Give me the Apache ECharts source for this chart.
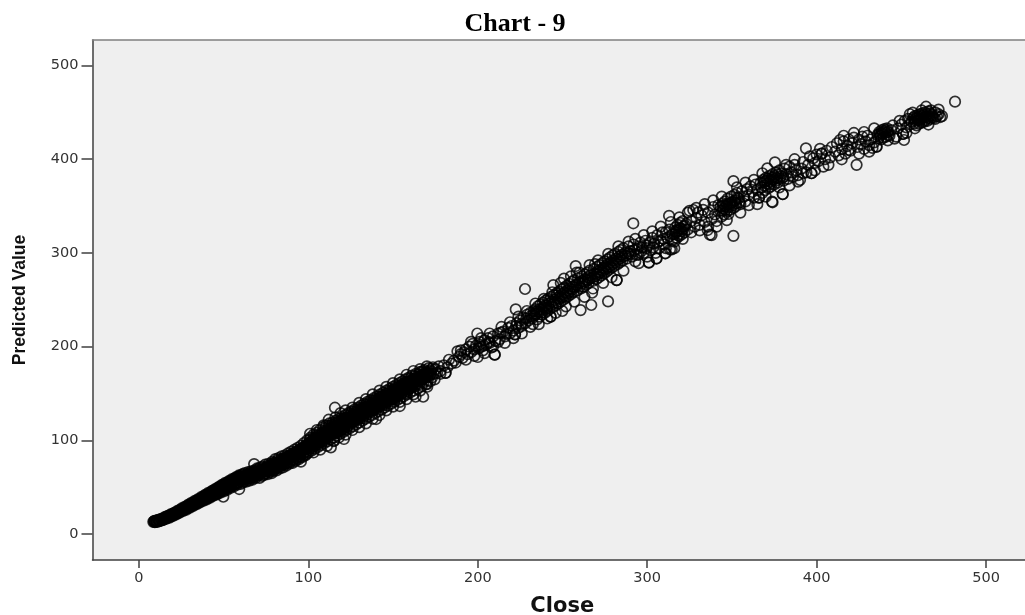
<!DOCTYPE html>
<html><head><meta charset="utf-8">
<style>html,body{margin:0;padding:0;background:#fff}#c{width:1025px;height:615px}</style>
<script src="https://cdn.jsdelivr.net/npm/echarts@6/dist/echarts.min.js"></script>
</head><body><div id="c"></div>
<script>
const titleText = "Chart - 9";
const xName = "Close";
const yName = "Predicted Value";
const tickValues = [0,100,200,300,400,500];

const tipBand = [[8.5,13],[9,13.5],[9.4,12.6],[9.8,14],[10.2,13],[10.6,14.3],[11,13.2],[11.5,14.8],[12,14],[12.4,15.3],[12.8,14.5],[13.3,15.9],[13.7,15],[14.2,16.6],[14.6,15.6],[15,17],[15.5,16.4],[16,18],[16.4,17.2],[16.8,18.8],[17.3,17.9],[17.8,19.5],[18.2,18.4],[18.7,20.2],[19.1,19.3],[19.6,21],[20,20.1],[20.5,21.8],[20.9,20.9],[21.4,22.6],[21.8,21.6],[22.3,23.5],[22.7,22.3],[23.2,24.3],[23.6,23.2],[24.1,25.2],[24.5,24],[25,26.2],[25.4,24.8],[25.9,27],[26.3,25.7],[26.8,27.8],[27.2,26.5],[27.7,28.9],[28.1,27.3],[28.6,29.8],[29,28.2],[29.5,30.7],[29.9,29],[30.4,31.6],[30.8,29.9],[31.3,32.6],[31.7,30.6],[32.2,33.5],[32.6,31.5],[33.1,34.4],[33.5,32.3],[34,35.4],[34.4,33.1],[34.9,36.3],[35.3,34],[35.8,37.2],[36.2,34.8],[36.7,38.1],[37.1,35.6],[37.6,39.1],[38,36.3],[38.5,40.1],[38.9,37.2],[39.4,41],[39.8,38],[40.3,42],[40.7,38.8],[41.2,43],[41.6,39.5],[42.1,43.9],[42.5,40.4],[43,45],[43.4,41.1],[43.9,46],[44.3,42],[44.8,47],[45.2,42.7],[45.7,48],[46.1,43.5],[46.6,49],[47,44.3],[47.5,50],[47.9,45],[48.4,51],[48.8,46],[49.3,52],[49.8,39.8],[49.7,47],[50.2,52.8],[50.6,47.6],[51.1,53.6],[51.5,48.4],[52,54.5],[52.4,49.4],[52.9,55.4],[53.3,50.2],[53.8,56.3],[54.2,51],[54.7,57.2],[55.1,51.8],[55.6,58],[56,52.5],[56.5,58.9],[56.9,53.4],[57.4,59.9],[57.8,54.4],[58.3,60.8],[58.7,55.2],[59.2,48],[59.2,61.7],[59.6,56.2]];

const tipFill = [[9.2,14.2],[10.4,13.6],[11.3,15.2],[12.1,13.7],[13,16],[14,14.7],[15.2,18],[16.2,16.3],[17,19.4],[18,17.5],[19,21.4],[19.8,19],[21,23],[22,20.8],[23,25],[24,22.7],[25.2,27.3],[26.1,24.7],[27,29],[28,26],[29.2,31.4],[30.1,28.2],[31,33.2],[32,30],[33,35.5],[34.1,31.9],[35,37.3],[36,33.7],[37,39.6],[38.2,35.5],[39.1,41.9],[40,37],[41,43.9],[42,38.9],[43.2,46.2],[44,40.9],[45,48],[46,42.2],[47,50.2],[48,44],[49,52.5],[50,45.5],[51,54.6],[52,47],[53,56.4],[54,49.2],[55,58.6],[56,50.7],[57,60.4],[58,52.6],[59,62.5],[60,53.6],[33.6,33.9],[35.1,35],[36.6,36.7],[38.1,38.3],[39.6,39.9],[41.1,41.4],[42.6,43.1],[44.1,44.4],[45.6,46],[47.1,47.5],[48.6,49],[50.1,50.6],[51.6,52],[53.1,53.7],[54.6,54.8],[56.1,56.5],[57.6,58],[59.1,59.1]];

const lowerBand = [[60,61],[60.4,57],[60.7,63],[61,59],[61.4,55],[61.8,62],[62.1,58],[62.5,65],[62.9,60],[63.3,56],[63.6,63],[64,59],[64.4,66],[64.8,61],[65.1,57],[65.5,64],[65.9,60],[66.3,67],[66.6,62],[67,58],[67.4,65],[67.8,61],[68,74.7],[68.2,68],[68.5,63],[68.9,60],[69.3,66],[69.7,70],[70,62],[70.4,67],[70.8,64],[71.2,60],[71.5,71],[71.9,65],[72.3,68],[72.7,62],[73,72],[73.4,66],[73.8,63],[74.2,69],[74.5,74],[74.9,65],[75.3,71],[75.7,67],[76,64],[76.4,75],[76.8,70],[77.2,66],[77.5,72],[77.9,68],[78.3,65],[78.7,77],[79,71],[79.4,67],[79.8,74],[80.2,69],[80.5,80],[80.9,72],[81.3,68],[81.7,76],[82,71],[82.4,81],[82.8,74],[83.2,70],[83.5,78],[83.9,73],[84.3,83],[84.7,76],[85,71],[85.4,80],[85.8,74],[86.2,84],[86.5,78],[86.9,73],[87.3,82],[87.7,76],[88,86],[88.4,80],[88.8,75],[89.2,84],[89.5,78],[89.9,88],[90.3,82],[90.7,76],[91,86],[91.4,80],[91.8,90],[92.2,84],[92.5,78],[92.9,88],[93.3,82],[93.7,92],[94,86],[94.4,80],[94.8,90],[95.2,84],[95.6,77.2],[95.5,94],[95.9,88],[96.3,82],[96.7,92],[97,86],[97.4,97],[97.8,90],[98.2,84],[98.5,95],[98.9,88],[99.3,100],[99.7,93],[100,87],[100.4,97],[100.8,91],[101.2,103],[101.5,95],[101.9,89],[102.3,100],[102.7,93],[103,106],[103.4,98],[103.8,91],[104.2,103],[104.5,96],[104.9,108],[105.3,100],[105.7,93],[106,105],[106.4,98],[106.8,111],[107.2,103],[107.5,95],[107.9,108],[108.3,100],[108.7,114],[109,105],[109.4,97],[109.8,110],[110.2,102],[110.5,116],[110.9,107],[111.3,99],[111.7,112],[112,104],[112.4,118],[112.8,109],[113.2,101],[113.3,92.5],[113.5,114],[113.9,106],[114.3,119],[114.7,111],[115,103],[115.4,116],[115.7,134.8],[115.8,108],[116.2,121],[116.5,113],[116.9,105],[117.3,118],[117.7,110],[118,123],[118.4,115],[118.8,107],[119.2,120],[119.5,112],[119.9,125],[120.3,117],[120.7,109],[121,101.4],[121,122],[121.4,114],[121.8,127],[122.2,119],[122.5,111],[122.9,124],[123.3,116],[123.7,129],[124,121],[124.4,113],[124.8,126],[125.2,118],[125.5,131],[125.9,123],[126.3,115],[126.7,128],[127,120],[127.4,133],[127.8,125],[128.2,117],[128.5,130],[128.9,122],[129.3,135],[129.7,127],[130,119],[130.4,132],[130.8,124],[131.2,137],[131.5,129],[131.9,121],[132.3,134],[132.7,126],[133,139],[133.4,131],[133.8,123],[134.2,136],[134.5,128],[134.9,141],[135.3,133],[135.7,125],[136,138],[136.4,130],[136.8,143],[137.2,135],[137.5,127],[137.9,140],[138.3,132],[138.7,145],[139,137],[139.4,129],[139.8,142],[140,122.7],[140.2,134],[140.5,147],[140.9,139],[141.3,131],[141.7,144],[142,136],[142.4,149],[142.8,141],[143.2,133],[143.5,146],[143.9,138],[144.3,151],[144.7,143],[145,135],[145.4,148],[145.8,140],[146.2,153],[146.5,145],[146.9,137],[147.3,150],[147.7,142],[148,155],[148.4,147],[148.8,139],[149.2,152],[149.5,144],[149.9,157],[150.3,149],[150.7,141],[151,154],[151.4,146],[151.8,159],[152.2,151],[152.5,143],[152.9,156],[153.3,148],[153.7,161],[154,136.6],[154.1,153],[154.4,145],[154.8,158],[155.2,150],[155.6,163],[155.9,155],[156.3,147],[156.7,160],[157.1,152],[157.4,165],[157.8,157],[158.2,149],[158.6,162],[158.9,154],[159.3,167],[159.7,159],[160.1,151],[160.4,164],[160.8,156],[161.2,169],[161.6,161],[162,153],[162.5,166],[163,158],[163.3,146.5],[163.5,171],[164,163],[164.5,155],[165,168],[165.5,160],[166,173],[166.5,165],[167,158],[167.8,146.5],[167.5,170],[168,162],[168.5,175],[169,167],[169.5,160],[170.2,157.2],[170,172],[170.5,164],[171,177],[171.5,169],[172,163],[172.5,174],[173,167],[173.5,178],[174,171],[174.5,165],[175,176]];

const lowerFill = [[60.2,59.5],[61.2,64],[62.3,56.8],[63.1,61.6],[64.2,64.3],[65.3,59],[66.1,65.2],[67.2,60],[68.1,66.5],[69,62.7],[70.2,69],[71,63],[72,66.5],[73.1,69.5],[74,64],[75,68.7],[76.1,72.7],[77,68],[78,74.6],[79.1,69],[80,76],[81,70.5],[82.1,78.6],[83,72],[84,80],[85.1,74],[86,81.5],[87,75.4],[88.1,83],[89,77],[90,85],[91.1,78.4],[92,87],[93,80.2],[94.1,88.5],[95,82],[96,90],[97.1,83.6],[98,93],[99,85.5],[100.1,95],[101,101],[102,91],[103.1,103],[104,94],[105,105.5],[106.1,96],[107,100.6],[108,106.4],[109.1,99],[110,113],[111,104.6],[112.1,115.5],[113,106],[114,116.5],[115.1,100],[116,118.7],[117,108],[118,120.6],[119.1,110],[120,122.7],[121,112],[122.1,124],[123,114],[124,118.6],[125.1,128.5],[126,120],[127,130.5],[128,122.5],[129.1,132.5],[130,124.6],[131,134.4],[132.1,123.6],[133,128.5],[134,138],[135.1,130.5],[136,140],[137,132.6],[138,142.4],[139.1,134.5],[140,144],[141,136.5],[142.1,146.3],[143,138.5],[144,148],[145.1,137.7],[146,150],[147,142.5],[148,152.7],[149.1,144.6],[150,154.5],[151,143.8],[152.1,156.5],[153,148.6],[154,158.7],[155.1,150.7],[156,160.5],[157,149.7],[158,162.6],[159.1,154.7],[160,166],[161,158],[162.1,163.7],[163,168.5],[164,160.5],[165.1,170.6],[166,162.5],[167,173],[168,165.5],[169.1,172.8],[170,168],[171,174],[172.1,170.4],[173,176.2],[60.8,60.4],[63.7,62],[66.8,63.7],[70.7,66],[74.6,71],[78.5,72.2],[82.6,76.6],[86.7,79.6],[90.6,83.5],[94.6,87],[98.6,91.6],[102.5,96.5],[106.6,101.7],[110.7,105.5],[114.6,112],[118.6,118],[122.6,121.5],[126.5,125.5],[130.6,129.6],[134.6,133.5],[138.5,137.5],[142.6,143],[146.6,147.6],[150.5,151.5],[154.6,155.7],[158.5,159.6],[162.6,160.5],[166.6,168],[170.6,170.5],[62,60.5],[65,62],[68,64.4],[71.6,68.4],[75.6,69.5],[79.6,76],[83.7,75.5],[87.6,79.4],[91.6,83],[95.6,91],[99.6,96],[103.6,100.3],[107.6,104.5],[111.6,109.6],[115.6,113],[119.6,115.4],[123.6,122],[127.6,127],[131.6,131],[135.6,135.2],[139.6,139],[143.6,141.7],[147.6,146],[151.6,149],[155.6,153.4],[159.6,157.6],[163.6,164],[167.6,166.5]];

const lowerCore = [[69.4,64.6],[72.6,66.9],[75.2,70],[77.7,71.3],[80.3,73.7],[82.9,76.5],[85.2,78],[87.9,81],[90.5,84],[92.7,84.7],[95.4,86],[97.6,90.2],[99.4,92],[100.6,93],[102.1,96],[103.3,95.5],[104.6,98.5],[105.9,102.3],[107.1,98.4],[108.5,104],[109.6,102.7],[110.8,108.5],[112.2,107.2],[113.6,111],[114.8,109.5],[116.1,115.5],[117.2,113.7],[118.3,112.6],[119.4,116.5],[120.6,120],[121.7,117.8],[122.8,120.5],[124.1,123.5],[125.3,121.5],[126.6,124.8],[127.9,123.6],[129,128.4],[130.2,126.5],[131.4,130.5],[132.6,129.2],[133.7,133.4],[135,131.5],[136.2,135.7],[137.3,133.5],[138.4,138.4],[139.6,136],[140.8,142],[141.9,140.4],[143.1,144],[144.4,140.6],[145.5,145.5],[146.7,143.5],[147.9,148.7],[149,147],[150.2,151.6],[151.3,149.5],[152.4,153.6],[153.6,151.4],[154.9,156],[156.1,153.8],[157.2,158.6],[158.3,156.5],[159.5,161.5],[160.6,159.6],[161.8,164.8],[163.1,162.7],[164.3,166.5],[165.4,164.8],[166.8,169],[168.2,168.7],[169.4,171],[170.9,172.5],[101.6,98],[103.9,101.5],[106.2,103.3],[108.8,102.5],[111.2,111],[113.8,113],[116.3,110.5],[118.9,116.8],[121.2,124],[123.4,119.5],[125.7,125.4],[128.1,127.5],[130.5,128.4],[132.9,135],[135.4,135.6],[137.8,136.8],[140.1,137.8],[142.5,139.5],[144.9,146.6],[147.2,145.5],[149.7,150.6],[152,147.5],[154.3,154.5],[156.8,156.7],[159.2,157.8],[161.4,163],[163.9,165.5]];

const lowerEdges = [[101,107],[105,111],[109,116],[112,122],[116,124.5],[119,129],[122,132],[126,135],[130,140],[134,144],[138,149],[142,153],[146,157],[150,161],[154,165],[158,170],[162,174],[166,176],[170,179],[103,87],[107,90],[111,94],[115,99],[118,103],[122,106],[126,111],[130,114],[134,118],[138,123],[142,127],[146,132],[150,136],[154,141],[158,144],[162,149],[166,153],[170,160]];

const midBand = [[176,172],[177,179],[178,174],[180,180],[181,172],[182,178],[184.6,182],[186,185],[188,195],[189,189],[190,196],[191,188],[192,194],[193,197],[194,192],[195,200],[196,194],[197,203],[198,197],[199,201],[199.7,214],[200,188.9],[200.5,198],[201,205],[202,200],[203,196],[204,207],[205,202],[206,209],[207,204],[208,199],[210,191.4],[209,211],[210.5,206],[212,214],[213,208],[215,216],[216,211],[218,220],[219,214],[220,222],[221,217],[222,213],[222.4,239.8],[223,225],[224,220],[225,228],[226,222],[227,231],[227.9,261.5],[228,225],[229,234],[230,228],[231,236],[232,230],[232.5,224],[233,238],[233.5,233],[234,240],[234.5,235],[235,229],[235.5,243],[236,237],[236.5,232],[237,245],[237.5,240],[238,234],[238.5,247],[239,242],[239.5,236],[240,249],[240.5,244],[241,238],[241.5,251],[242,246],[243,232],[242.5,240],[243.2,253],[243.7,248],[244.2,242],[244.6,265.7],[245,255],[245.5,250],[246,244],[246.5,257],[247,252],[247.5,246],[248,259],[248.5,254],[249,248],[249.5,261],[249.9,238],[250,256],[250.5,250],[250.9,272.5],[251,263],[251.5,258],[252,252],[252.5,265],[253,260],[253.5,254],[254,267],[254.5,262],[255,256],[255.5,269],[256,264],[256.5,258],[257,271],[257.8,286],[258,266],[258.4,278.9],[258.8,260],[259.2,273],[260,268],[260.7,239],[261,262],[261.5,275],[262,270],[262.5,264],[263,277],[263.5,272],[264,266],[264.5,279],[265,274],[265.5,268],[266,281],[267,244.4],[266.5,276],[267.5,257.5],[267.8,270],[268.5,283],[269.2,288],[269.5,278],[270,272],[270.5,285],[271,280],[271.5,274],[272,287],[272.5,282],[273,276],[273.5,289],[274,284],[274.5,278],[275,291],[275.5,286],[276,280],[276.9,248.3],[276.5,293],[277,288],[277.5,282],[278,295],[278.5,290],[279,284],[279.5,297],[280,292],[280.5,286],[281,299],[282,271],[281.5,294],[282.5,288],[283,301],[283.5,296],[284,290],[284.5,303],[285,298],[285.5,292],[286,305],[287,300],[288,294],[289,307],[290,302],[291,296]];

const midFill = [[201.3,202],[203.6,201],[206.5,205],[213.6,215],[217,213.6],[222.6,222],[225.6,224],[228.6,230],[231.4,232.6],[233.2,235],[234.8,237.6],[236.2,239.5],[237.8,236.5],[239.2,243.6],[240.8,241],[242.2,249],[243.6,244.6],[245.2,247],[246.8,254.7],[248.2,251],[249.7,252.5],[251.2,254.5],[252.8,257],[254.2,258.7],[255.8,261],[257.2,263.6],[258.7,265],[260.3,264],[261.8,267.5],[263.2,269],[264.8,271],[266.2,272.7],[267.7,274],[269.1,275],[270.7,277],[272.2,279],[273.7,280.7],[275.2,282.6],[276.7,284.5],[278.2,286],[279.7,288],[281.2,290],[282.7,292.6],[284.2,294],[285.7,296],[287.2,297],[288.7,299.6],[290.2,298.6]];

const midSpread = [[178,171],[183,186],[187,183],[190,192],[193,186],[196,205],[198,190],[202,209],[204,193],[207,214],[209,200],[212,205],[214,221],[216,204],[219,226],[221,209],[224,232],[226,214],[229,238],[231,221],[234,246],[236,224],[239,251],[241,230],[244,258],[246,236],[249,268],[252,243],[255,275],[257,248],[260,279],[263,253],[266,287],[268,262],[271,292],[274,268],[277,299],[279,274],[283,307],[286,281],[289,312]];

const upperBand = [[291.8,331.6],[292,309],[293,291],[294,304],[295,298],[296,311],[297,306],[298,300],[299,313],[300,308],[301,289.8],[302,303],[303,316],[304,310],[305.5,294.2],[306,319],[307,305],[308,313],[309,322],[310,309],[310.9,299.6],[312,316],[312.9,339.6],[313,325],[314.5,303.8],[315,320],[316,312],[316.5,327],[317,322],[317.5,316],[318,330],[318.5,324],[319,318],[319.5,332],[320,326],[320.5,320],[321,334],[321.5,328],[322,322],[323,331],[324,325],[325,345],[326,334],[327.2,345.8],[328,328],[329,337],[330,343],[331,330],[332,340],[333,346],[334,333],[335.7,324.4],[336,343],[337,319.5],[338,336],[339,349],[340,341],[341,334],[342,351],[343,345],[344,339],[344.5,353],[345,347],[345.5,341],[346,355],[346.5,350],[347,344],[347.5,358],[348,341.5],[348.5,352],[349,346],[349.5,360],[350,354],[350.9,376.6],[350.9,318.2],[351,348],[351.5,362],[352,356],[352.5,350],[353,364],[354,358],[355,352],[356,366],[357,360],[358,355],[359,368],[360,362],[361,371],[362,365],[363,359],[364,373],[365,367],[366,359],[367,375],[367.5,370],[368,364],[368.5,378],[369,372],[369.5,367],[370,380],[370.9,390.3],[371,374],[371.5,369],[372,382],[372.5,376],[373,371],[373.7,354.7],[374,384],[374.5,378],[375,373],[375.4,396.7],[376,386],[376.5,380],[377,375],[378,388],[379,382],[380,362.6],[380.5,377],[381,390],[382,384],[383,379],[384,392],[385,386],[386,381],[387,394],[388,388],[389,383],[390.2,377.8],[391,390],[392,397],[393.7,411.6],[394,386],[395,394],[397,385],[398,401],[399,396],[400,405],[401,398],[403,406],[404,392],[405,400],[406,409],[408,402],[410.9,408],[412,417],[413.8,420.5],[414.8,399.9],[415,411],[416,419],[417,406],[418,414],[419,421],[420,409],[421,417],[422,423],[423.6,394],[424,413],[425,421],[426,416],[427,424],[428,411],[429,419],[430,425],[431,415],[432,421],[433,412],[434,418],[435.4,413.3],[436,426],[436.5,422],[437,429],[437.5,425],[438,421],[438.5,431],[439,427],[439.5,423],[440,432],[440.5,428],[441,424],[441.5,433],[442,429],[443,425],[444,431],[446,422],[448,433],[450,437],[451,426.9],[451.6,420.5],[452,441],[453,434],[454,443],[455,437],[456,440],[456.7,449.6],[457,444],[457.5,438],[458,446],[458.5,441],[459,436],[459.5,447],[460,442],[460.5,438],[461,448],[461.5,443],[462,439],[462.5,449],[463,444],[463.5,440],[464,450],[464.6,456],[465,445],[465.5,441],[466,451],[466.5,446],[467,443],[467.5,452],[468,447],[469,444],[470,450],[471,446],[472,448],[473,445],[481.7,461.4]];

const upperFill = [[292.5,303],[293.6,298],[295.4,307],[296.6,302],[299.6,305],[301.5,311],[303.6,306],[306.5,312],[309.6,315],[311,322],[313.5,318],[314.7,313],[316.2,320],[317.2,324],[318.2,319],[319.2,326],[320.2,323],[321.2,325],[322.4,329],[343.2,349],[344.2,345],[345.2,351],[346.2,346],[347.2,352],[348.2,349],[349.2,353],[350.2,351],[351.2,355],[352.2,353],[353.4,359],[354.6,354],[369.2,376],[370.3,377],[371.2,379],[372.2,373],[373.2,378],[374.2,380],[375.2,382],[376.2,377],[377.2,384],[378.3,379],[379.3,385],[380.4,381],[437.2,427],[438.2,428],[439.2,429],[440.2,430],[441.2,431],[442.3,426],[458.2,443],[459.2,444],[460.2,445],[461.2,441],[462.2,446],[463.2,447],[464.2,442],[465.2,448],[466.2,444],[467.2,449],[468.3,445]];

const upperSpread = [[293,315],[295,289],[298,319],[300,296],[303,323],[305,300],[308,328],[311,305],[314,333],[316,305],[319,338],[321,315],[324,343],[326,322],[329,348],[331,324],[334,352],[336,328],[339,356],[341,328],[344,360],[347,335],[353,370],[355,343],[358,375],[360,351],[363,378],[365,352],[368,385],[370,360],[378,370],[382,394],[384,372],[387,400],[389,376],[392,385],[396,403],[399,388],[402,411],[407,394],[409,413],[413,404],[416,425],[419,410],[422,428],[425,406],[428,429],[431,408],[434,433],[442,420],[445,436],[447,424],[449,441],[453,428],[455,448],[458,433],[462,452],[466,437],[470,443],[472,453],[474,446]];

const lightOutliers = [[301,289.6],[305.5,294],[310.5,299.6],[313.5,303.8],[282,271],[243,232],[222,213],[210,191.4],[181,172],[338,319],[366,359],[374,354],[380,362.8],[397,385],[403,406],[435.4,413.3],[451,426.9]];

const allPoints = [...tipBand, ...tipFill, ...lowerBand, ...lowerFill, ...lowerCore, ...lowerEdges, ...midBand, ...midFill, ...midSpread, ...upperBand, ...upperFill, ...upperSpread, ...lightOutliers];

const chart = echarts.init(document.getElementById('c'), null, {renderer:'canvas'});
const axisColor = '#404040';
chart.setOption({
  animation:false,
  backgroundColor:'#ffffff',
  title:{text:titleText,left:510,top:6,textAlign:'center',
    textStyle:{fontFamily:'Liberation Serif',fontWeight:'bold',fontSize:26,color:'#000'}},
  grid:{left:92.5,right:0,top:40,bottom:55,show:true,backgroundColor:'#efefef',borderWidth:0,outerBoundsMode:'none',containLabel:false},
  xAxis:[{
    type:'value',min:-27.4,max:523,position:'bottom',
    name:xName,nameLocation:'middle',nameGap:36,
    nameTextStyle:{fontFamily:'DejaVu Sans',fontWeight:'bold',fontSize:21,color:'#111',padding:[0,0,0,7]},
    splitLine:{show:false},
    axisLine:{show:true,onZero:false,lineStyle:{color:axisColor,width:1.5}},
    axisTick:{show:true,length:8,customValues:tickValues,lineStyle:{color:axisColor,width:1.5}},
    axisLabel:{customValues:tickValues,margin:11,fontFamily:'DejaVu Sans',fontSize:14.5,color:'#333'}
  },{
    type:'value',min:-27.4,max:523,position:'top',
    splitLine:{show:false},
    axisLine:{show:true,onZero:false,lineStyle:{color:'#808080',width:1.5}},
    axisTick:{show:false},axisLabel:{show:false}
  }],
  yAxis:{
    type:'value',min:-27.7,max:527.2,
    name:yName,nameLocation:'middle',nameGap:63,nameRotate:90,
    nameTextStyle:{fontFamily:'Liberation Sans',fontWeight:'bold',fontSize:17.5,color:'#111'},
    splitLine:{show:false},
    axisLine:{show:true,onZero:false,lineStyle:{color:axisColor,width:1.5}},
    axisTick:{show:true,length:11,customValues:tickValues,lineStyle:{color:axisColor,width:1.5}},
    axisLabel:{customValues:tickValues,margin:14,fontFamily:'DejaVu Sans',fontSize:14.5,color:'#333'}
  },
  series:[{
    type:'scatter',data:allPoints,symbol:'circle',symbolSize:10.5,large:false,
    itemStyle:{color:'rgba(0,0,0,0)',borderColor:'#000',borderWidth:1.7}
  }]
});
</script></body></html>
